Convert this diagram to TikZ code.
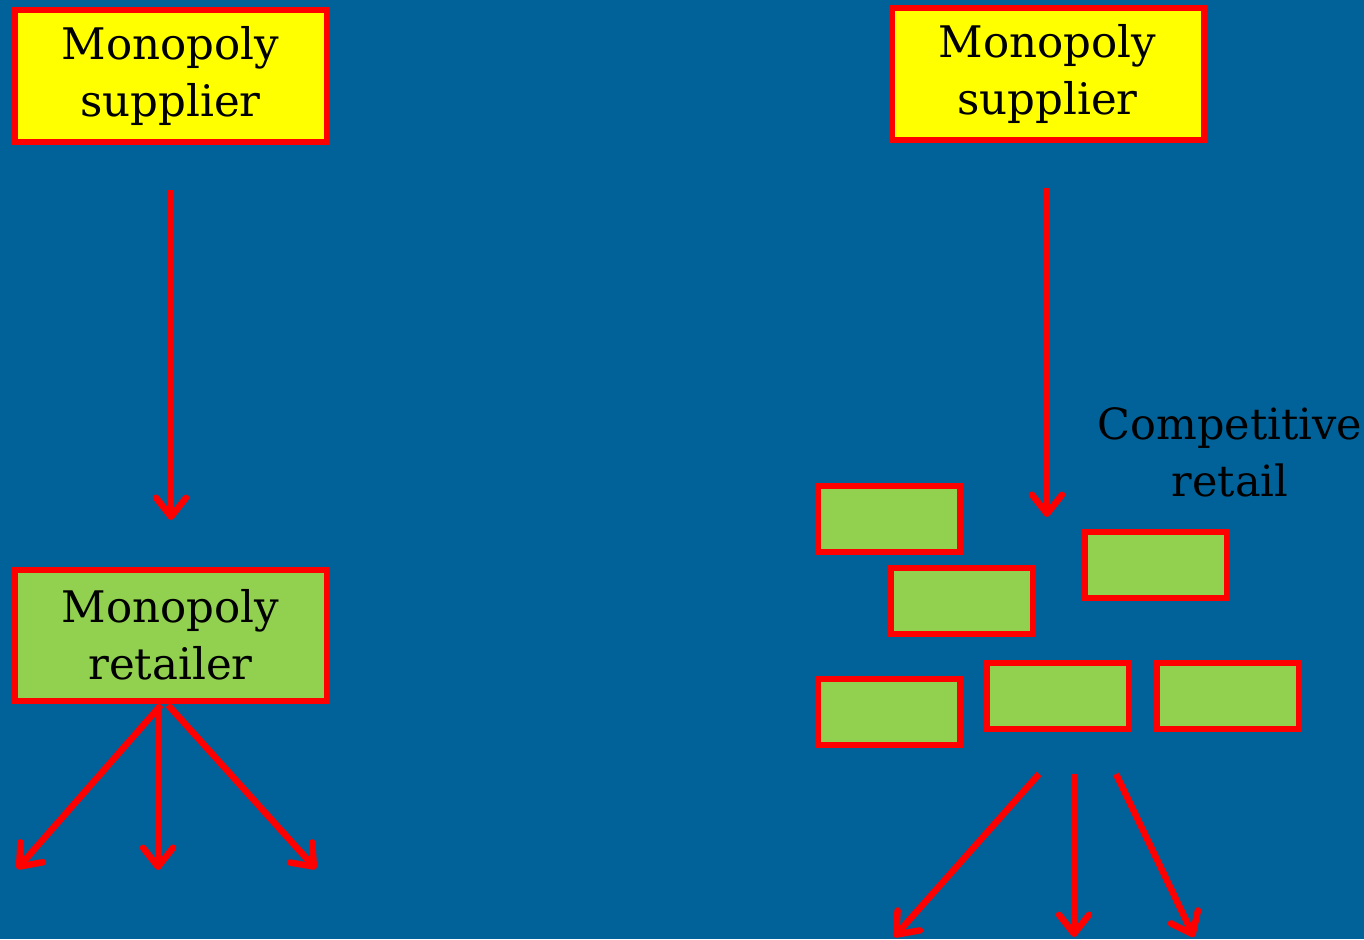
\documentclass[tikz,border=0pt]{standalone}
\usepackage{fontspec}
\setmainfont{DejaVu Serif}
\usetikzlibrary{arrows.meta}
\definecolor{bgblue}{RGB}{0,98,152}
\definecolor{boxyellow}{RGB}{255,255,0}
\definecolor{boxgreen}{RGB}{146,208,80}
\definecolor{linered}{RGB}{255,0,0}
\tikzset{
  bigbox/.style={draw=linered, line width=6pt, minimum width=312pt, minimum height=131pt,
    inner sep=0pt, align=center, font=\fontsize{43.5}{57}\selectfont, text=black},
  supbox/.style={bigbox, fill=boxyellow},
  retbox/.style={bigbox, fill=boxgreen},
  smallbox/.style={draw=linered, line width=6pt, fill=boxgreen, minimum width=142pt,
    minimum height=66pt, inner sep=0pt},
  arr/.style={draw=linered, line width=6.5pt,
    -{Straight Barb[length=19pt,width=30pt,line cap=round,line join=round]}},
}
\begin{document}
\begin{tikzpicture}[x=1pt,y=-1pt]
\fill[bgblue] (0,0) rectangle (1364,939);
\useasboundingbox (0,0) rectangle (1364,939);

\node[supbox] (sup1) at (170.5,76) {Monopoly\\supplier};
\node[supbox] (sup2) at (1047.5,74) {Monopoly\\supplier};
\node[retbox] (ret1) at (170.5,635) {Monopoly\\retailer};

\node[smallbox] (g1) at (888.5,519) {};
\node[smallbox] (g2) at (961.5,600.5) {};
\node[smallbox] (g3) at (1155.5,565) {};
\node[smallbox] (g4) at (888.5,711.5) {};
\node[smallbox] (g5) at (1057.5,696) {};
\node[smallbox] (g6) at (1228,696) {};

\node[font=\fontsize{43}{57}\selectfont, align=center, text=black] (comp) at (1230,452) {Competitive\\retail};

% left supplier -> retailer
\coordinate (a1s) at (171,190);
\coordinate (a1e) at (171,520);
\draw[arr] (a1s) -- (a1e);

% right supplier -> competitive retail
\coordinate (a2s) at (1047,188);
\coordinate (a2e) at (1047,517);
\draw[arr] (a2s) -- (a2e);

% left fan
\coordinate (fl0) at (161,705);
\coordinate (fm0) at (158,705);
\coordinate (fr0) at (168,705);
\coordinate (fl1) at (17,869);
\coordinate (fm1) at (158,870);
\coordinate (fr1) at (316,869);
\draw[arr] (fl0) -- (fl1);
\draw[arr] (fm0) -- (fm1);
\draw[arr] (fr0) -- (fr1);

% right fan
\coordinate (rl0) at (1039,774);
\coordinate (rm0) at (1074,774);
\coordinate (rr0) at (1116,774);
\coordinate (rl1) at (894,937);
\coordinate (rm1) at (1074,937);
\coordinate (rr1) at (1194,937);
\draw[arr] (rl0) -- (rl1);
\draw[arr] (rm0) -- (rm1);
\draw[arr] (rr0) -- (rr1);
\end{tikzpicture}
\end{document}
